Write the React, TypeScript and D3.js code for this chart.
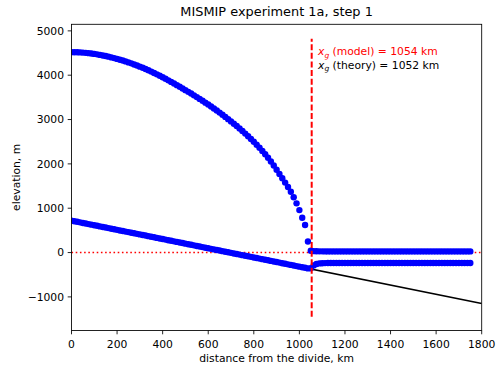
import React from "react";
import * as d3 from "d3";

// ---- data ----
const gridKm = [
  0, 12.5, 25, 37.5, 50, 62.5, 75, 87.5,
  100, 112.5, 125, 137.5, 150, 162.5, 175, 187.5,
  200, 212.5, 225, 237.5, 250, 262.5, 275, 287.5,
  300, 312.5, 325, 337.5, 350, 362.5, 375, 387.5,
  400, 412.5, 425, 437.5, 450, 462.5, 475, 487.5,
  500, 512.5, 525, 537.5, 550, 562.5, 575, 587.5,
  600, 612.5, 625, 637.5, 650, 662.5, 675, 687.5,
  700, 712.5, 725, 737.5, 750, 762.5, 775, 787.5,
  800, 812.5, 825, 837.5, 850, 862.5, 875, 887.5,
  900, 912.5, 925, 937.5, 950, 962.5, 975, 987.5,
  1000, 1012.5, 1025, 1037.5, 1050, 1062.5, 1075, 1087.5,
  1100, 1112.5, 1125, 1137.5, 1150, 1162.5, 1175, 1187.5,
  1200, 1212.5, 1225, 1237.5, 1250, 1262.5, 1275, 1287.5,
  1300, 1312.5, 1325, 1337.5, 1350, 1362.5, 1375, 1387.5,
  1400, 1412.5, 1425, 1437.5, 1450, 1462.5, 1475, 1487.5,
  1500, 1512.5, 1525, 1537.5, 1550, 1562.5, 1575, 1587.5,
  1600, 1612.5, 1625, 1637.5, 1650, 1662.5, 1675, 1687.5,
  1700, 1712.5, 1725, 1737.5, 1750,
];

const surfaceM = [
  4520, 4519, 4517, 4514, 4510, 4504, 4497, 4489,
  4480, 4470, 4458, 4446, 4432, 4418, 4402, 4386,
  4368, 4350, 4331, 4311, 4289, 4267, 4243, 4219,
  4193, 4167, 4139, 4111, 4081, 4051, 4019, 3987,
  3953, 3919, 3884, 3849, 3813, 3776, 3739, 3701,
  3663, 3625, 3586, 3546, 3506, 3465, 3423, 3381,
  3338, 3294, 3249, 3203, 3156, 3108, 3059, 3009,
  2958, 2906, 2853, 2798, 2741, 2683, 2623, 2561,
  2498, 2433, 2365, 2293, 2218, 2138, 2053, 1963,
  1868, 1773, 1676, 1578, 1478, 1370, 1248, 1110,
  958, 785, 620, 250,
  40, 32, 29, 27, 27,
  26, 26, 26, 26, 26, 26, 26, 26,
  26, 26, 26, 26, 26, 26, 26, 26,
  26, 26, 26, 26, 26, 26, 26, 26,
  26, 26, 26, 26, 26, 26, 26, 26,
  26, 26, 26, 26, 26, 26, 26, 26,
  26, 26, 26, 26, 26, 26, 26, 26,
  26, 26, 26, 26,
];

const baseM = [
  720, 707, 694, 681, 668, 655, 642, 629,
  616, 603, 590, 577, 564, 551, 538, 525,
  512, 499, 486, 473, 461, 448, 435, 422,
  409, 396, 383, 370, 357, 344, 331, 318,
  305, 292, 279, 266, 253, 240, 227, 214,
  201, 188, 175, 162, 149, 136, 123, 110,
  97, 84, 71, 58, 45, 32, 19, 6,
  -7, -20, -33, -46, -59, -71, -84, -97,
  -110, -123, -136, -149, -162, -175, -188, -201,
  -214, -227, -240, -253, -266, -279, -292, -305,
  -318, -331, -344, -357,
  -355, -290, -258, -245, -240, -238, -237, -236, -236,
  -235, -235, -235, -235, -235, -235, -235, -235,
  -235, -235, -235, -235, -235, -235, -235, -235,
  -235, -235, -235, -235, -235, -235, -235, -235,
  -235, -235, -235, -235, -235, -235, -235, -235,
  -235, -235, -235, -235, -235, -235, -235, -235,
  -235, -235, -235, -235, -235, -235, -235, -235,
];

const bedKm = [0, 1800];
const bedM = [720, -1148];

const groundingKm = 1054;
const groundingSpanM = [-1450, 4820];

const xTicks = [0, 200, 400, 600, 800, 1000, 1200, 1400, 1600, 1800];
const yTicks = [-1000, 0, 1000, 2000, 3000, 4000, 5000];

const titleText = "MISMIP experiment 1a, step 1";
const xLabelText = "distance from the divide, km";
const yLabelText = "elevation, m";
const modelLabel = " (model) = 1054 km";
const theoryLabel = " (theory) = 1052 km";

// ---- layout ----
const W = 496;
const H = 366;
const left = 71.5;
const right = 481.7;
const top = 24.3;
const bottom = 330.5;
const FONT = "DejaVu Sans, Liberation Sans, sans-serif";

export default function App() {
  const x = d3.scaleLinear().domain([0, 1800]).range([left, right]);
  const y = d3.scaleLinear().domain([-1758, 5148]).range([bottom, top]);

  const bedLine = d3
    .line<number>()
    .x((_, i) => x(bedKm[i]))
    .y((d) => y(d))(bedM) as string;

  const fmt = (v: number) => (v < 0 ? "\u2212" + Math.abs(v) : String(v));

  return (
    <svg
      width={W}
      height={H}
      style={{ position: "absolute", left: 0, top: 0, background: "#fff" }}
      fontFamily={FONT}
    >
      <rect x={0} y={0} width={W} height={H} fill="#fff" />
      <defs>
        <clipPath id="plotclip">
          <rect x={left} y={top} width={right - left} height={bottom - top} />
        </clipPath>
      </defs>

      <g clipPath="url(#plotclip)">
        {/* bed */}
        <path d={bedLine} fill="none" stroke="#000" strokeWidth={1.6} />
        {/* sea level */}
        <line
          x1={left}
          x2={right}
          y1={y(0)}
          y2={y(0)}
          stroke="#ff0000"
          strokeWidth={1.6}
          strokeDasharray="1.6,2.6"
        />
        {/* ice surface and base */}
        {surfaceM.map((v, i) => (
          <circle key={"s" + i} cx={x(gridKm[i])} cy={y(v)} r={3.2} fill="#0000ff" />
        ))}
        {baseM.map((v, i) => (
          <circle key={"b" + i} cx={x(gridKm[i])} cy={y(v)} r={3.2} fill="#0000ff" />
        ))}
        {/* grounding line */}
        <line
          x1={x(groundingKm)}
          x2={x(groundingKm)}
          y1={y(groundingSpanM[0])}
          y2={y(groundingSpanM[1])}
          stroke="#ff0000"
          strokeWidth={2}
          strokeDasharray="6,2.6"
        />
      </g>

      {/* frame */}
      <rect
        x={left}
        y={top}
        width={right - left}
        height={bottom - top}
        fill="none"
        stroke="#000"
        strokeWidth={0.86}
      />

      {/* x ticks */}
      {xTicks.map((t) => (
        <g key={"xt" + t}>
          <line x1={x(t)} x2={x(t)} y1={bottom} y2={bottom + 3.8} stroke="#000" strokeWidth={0.86} />
          <text x={x(t)} y={348} fontSize={10.76} textAnchor="middle" fill="#000">
            {fmt(t)}
          </text>
        </g>
      ))}
      {/* y ticks */}
      {yTicks.map((t) => (
        <g key={"yt" + t}>
          <line x1={left - 3.8} x2={left} y1={y(t)} y2={y(t)} stroke="#000" strokeWidth={0.86} />
          <text x={left - 7.5} y={y(t) + 3.9} fontSize={10.76} textAnchor="end" fill="#000">
            {fmt(t)}
          </text>
        </g>
      ))}

      {/* labels */}
      <text x={(left + right) / 2} y={16} fontSize={12.9} textAnchor="middle" fill="#000">
        {titleText}
      </text>
      <text x={(left + right) / 2} y={362} fontSize={10.76} textAnchor="middle" fill="#000">
        {xLabelText}
      </text>
      <text
        transform={`translate(19.5,${(top + bottom) / 2}) rotate(-90)`}
        fontSize={10.76}
        textAnchor="middle"
        fill="#000"
      >
        {yLabelText}
      </text>

      {/* annotations */}
      <text x={318} y={55} fontSize={10.76} fill="#ff0000">
        <tspan fontStyle="italic">x</tspan>
        <tspan fontStyle="italic" fontSize={7.5} dy={2.5}>g</tspan>
        <tspan dy={-2.5}>{modelLabel}</tspan>
      </text>
      <text x={318} y={68.5} fontSize={10.76} fill="#000">
        <tspan fontStyle="italic">x</tspan>
        <tspan fontStyle="italic" fontSize={7.5} dy={2.5}>g</tspan>
        <tspan dy={-2.5}>{theoryLabel}</tspan>
      </text>
    </svg>
  );
}
